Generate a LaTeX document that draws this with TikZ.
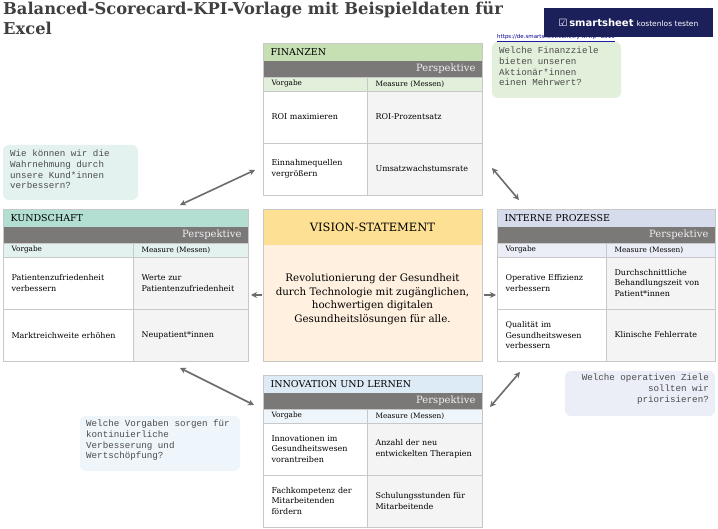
\documentclass[tikz,border=0pt]{standalone}
\usepackage{fontspec}
\setmainfont{DejaVu Serif}
\newfontfamily\monof{Liberation Mono}
\newfontfamily\sansf{DejaVu Sans}
\usetikzlibrary{arrows.meta}
\definecolor{persp}{HTML}{7B7878}
\definecolor{gridc}{HTML}{C8C8C8}
\definecolor{meas}{HTML}{F4F4F4}
\definecolor{navy}{HTML}{1B1F5A}
\definecolor{finh}{HTML}{C6E0B4}
\definecolor{fins}{HTML}{E2EFDA}
\definecolor{kunh}{HTML}{B2DFD2}
\definecolor{kuns}{HTML}{E3F2EE}
\definecolor{inth}{HTML}{D6DCEC}
\definecolor{ints}{HTML}{EBEEF6}
\definecolor{innh}{HTML}{DDEBF7}
\definecolor{inns}{HTML}{EEF5FB}
\tikzset{
 cell/.style={draw=gridc,line width=0.6pt},
 txt/.style={font=\fontsize{8}{10.5}\selectfont,align=left,anchor=west,text width=#1},
 note/.style={rounded corners=6pt,draw=none,font=\monof\fontsize{9.2}{10.6}\selectfont,align=left,anchor=north west,inner sep=0pt,text=black!70},
 arr/.style={{Stealth[length=6pt,width=6pt]}-{Stealth[length=6pt,width=6pt]},draw=gray!85!black,line width=1.6pt},
}
\newcommand\kpitab[9]{%
 \fill[#6] (#2,#5) rectangle (#4,#5+18);
 \node[anchor=west,font=\fontsize{9.5}{11}\selectfont] (#1t) at (#2+4,#5+9) {#8};
 \fill[persp] (#2,#5+18) rectangle (#4,#5+34);
 \node[anchor=east,text=white!88!gray,font=\fontsize{10}{11}\selectfont] (#1p) at (#4-3,#5+26) {Perspektive};
 \fill[#7] (#2,#5+34) rectangle (#4,#5+48);
 \fill[meas] (#3,#5+48) rectangle (#4,#5+152);
 \draw[cell] (#2,#5) rectangle (#4,#5+152);
 \draw[cell] (#2,#5+34) -- (#4,#5+34) (#2,#5+48) -- (#4,#5+48) (#2,#5+100) -- (#4,#5+100) (#3,#5+34) -- (#3,#5+152);
 \node[anchor=west,font=\fontsize{7.3}{8}\selectfont] (#1v) at (#2+5,#5+41) {Vorgabe};
 \node[anchor=west,font=\fontsize{7.3}{8}\selectfont] (#1m) at (#3+5,#5+41) {Measure (Messen)};
 #9}
\begin{document}
\begin{tikzpicture}[x=1pt,y=-1pt]
\useasboundingbox (0,0) rectangle (718,529);
\fill[white] (0,0) rectangle (718,529);
\node[anchor=north west,align=left,text=black!75,font=\bfseries\fontsize{16.3}{20}\selectfont,inner sep=0pt] (title) at (3,1) {Balanced-Scorecard-KPI-Vorlage mit Beispieldaten für\\Excel};
\node[anchor=west,font=\sansf\fontsize{5.5}{6}\selectfont,text=blue!60!black,inner sep=0pt] (url) at (497,38) {\underline{https://de.smartsheet.com/try-it?trp=8510}};
\fill[navy] (544,8) rectangle (713,37);
\node[text=white,font=\sansf\fontsize{10}{12}\selectfont,inner sep=0pt] (logo) at (628.5,22.5) {☑\,\textbf{smartsheet} \fontsize{7.5}{8}\selectfont kostenlos testen};
\kpitab{fin}{263}{367}{482}{43}{finh}{fins}{FINANZEN}{%
 \node[txt=95pt] at (268,117) {ROI maximieren};
 \node[txt=105pt] at (372,117) {ROI-Prozentsatz};
 \node[txt=95pt] at (268,169) {Einnahmequellen\\vergrößern};
 \node[txt=105pt] at (372,169) {Umsatzwachstumsrate};}
\kpitab{kun}{3}{133}{248}{209}{kunh}{kuns}{KUNDSCHAFT}{%
 \node[txt=125pt] at (8,283) {Patientenzufriedenheit\\verbessern};
 \node[txt=112pt] at (138,283) {Werte zur\\Patientenzufriedenheit};
 \node[txt=125pt] at (8,335) {Marktreichweite erhöhen};
 \node[txt=110pt] at (138,335) {Neupatient*innen};}
\kpitab{int}{497}{606}{715}{209}{inth}{ints}{INTERNE PROZESSE}{%
 \node[txt=100pt] at (502,283) {Operative Effizienz\\verbessern};
 \node[txt=108pt] at (611,283) {Durchschnittliche\\Behandlungszeit von\\Patient*innen};
 \node[txt=100pt] at (502,335) {Qualität im\\Gesundheitswesen\\verbessern};
 \node[txt=105pt] at (611,335) {Klinische Fehlerrate};}
\kpitab{inn}{263}{367}{482}{375}{innh}{inns}{INNOVATION UND LERNEN}{%
 \node[txt=95pt] at (268,449) {Innovationen im\\Gesundheitswesen\\vorantreiben};
 \node[txt=110pt] at (372,449) {Anzahl der neu\\entwickelten Therapien};
 \node[txt=95pt] at (268,501) {Fachkompetenz der\\Mitarbeitenden\\fördern};
 \node[txt=105pt] at (372,501) {Schulungsstunden für\\Mitarbeitende};}
\fill[yellow!45!orange!40!white] (263,209) rectangle (482,245);
\fill[orange!12] (263,245) rectangle (482,361);
\draw[cell] (263,209) rectangle (482,361);
\node[font=\fontsize{11.5}{13}\selectfont] (vt) at (372.5,227) {VISION-STATEMENT};
\node[align=center,font=\fontsize{10.3}{13.5}\selectfont] (vb) at (372.5,299) {Revolutionierung der Gesundheit\\durch Technologie mit zugänglichen,\\hochwertigen digitalen\\Gesundheitslösungen für alle.};
\fill[fins,rounded corners=6pt] (492,42) rectangle (621,98);
\node[note] (n1) at (499,47) {Welche Finanzziele\\bieten unseren\\Aktionär*innen\\einen Mehrwert?};
\fill[kuns,rounded corners=6pt] (3,145) rectangle (138,200);
\node[note] (n2) at (10,150) {Wie können wir die\\Wahrnehmung durch\\unsere Kund*innen\\verbessern?};
\fill[ints,rounded corners=6pt] (565,371) rectangle (715,416);
\node[note,anchor=north east,align=right] (n3) at (709,374) {Welche operativen Ziele\\sollten wir\\priorisieren?};
\fill[inns,rounded corners=6pt] (80,416) rectangle (240,471);
\node[note] (n4) at (86,420) {Welche Vorgaben sorgen für\\kontinuierliche\\Verbesserung und\\Wertschöpfung?};
\coordinate (a1) at (255,170); \coordinate (a2) at (180,205);
\coordinate (b1) at (492,168); \coordinate (b2) at (519,200);
\coordinate (c1) at (251,295); \coordinate (c2) at (262,295);
\coordinate (d1) at (484,295); \coordinate (d2) at (496,295);
\coordinate (e1) at (180,368); \coordinate (e2) at (254,405);
\coordinate (f1) at (520,372); \coordinate (f2) at (490,407);
\draw[arr] (a1) -- (a2);
\draw[arr] (b1) -- (b2);
\draw[arr,{Stealth[length=6pt,width=6pt]}-] (c1) -- (c2);
\draw[arr,-{Stealth[length=6pt,width=6pt]}] (d1) -- (d2);
\draw[arr] (e1) -- (e2);
\draw[arr] (f1) -- (f2);
\end{tikzpicture}
\end{document}
